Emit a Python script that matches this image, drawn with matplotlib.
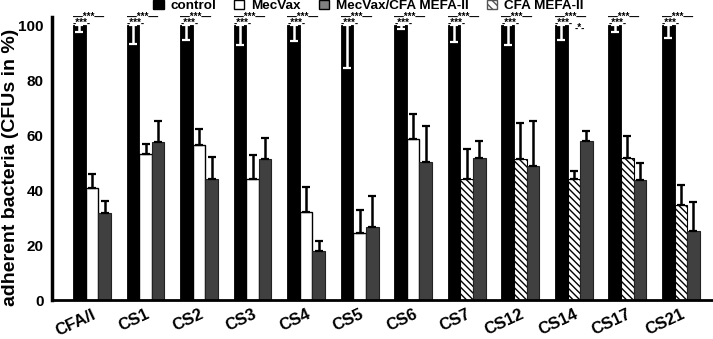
"""Adherence of ETEC strains after antibody treatment, % of control CFUs."""

import numpy as np
import matplotlib
matplotlib.use("Agg")
import matplotlib.pyplot as plt
from matplotlib.patches import Patch

plt.rcParams["font.family"] = ["Liberation Sans", "DejaVu Sans"]
plt.rcParams["font.weight"] = "bold"
plt.rcParams["hatch.linewidth"] = 1.0

categories = ["CFA/I", "CS1", "CS2", "CS3", "CS4", "CS5", "CS6",
              "CS7", "CS12", "CS14", "CS17", "CS21"]

control = [100] * 12
control_err = [2.5, 7.0, 5.5, 7.3, 5.7, 15.5, 1.5, 6.0, 7.3, 5.5, 2.4, 4.6]

# MecVax tested on the first seven strains, CFA MEFA-II on the last five
mecvax = [40.8, 53.2, 56.3, 44.0, 32.2, 24.3, 58.5]
mecvax_err = [5.1, 3.7, 6.1, 8.6, 8.8, 8.5, 9.3]
cfa_mefa = [44.0, 51.2, 44.0, 51.6, 34.4]
cfa_mefa_err = [11.0, 13.3, 2.8, 8.1, 7.3]

combo = [31.6, 57.4, 44.0, 51.2, 17.9, 26.4, 50.3, 51.8, 48.9, 57.7, 43.8, 25.1]
combo_err = [4.3, 7.8, 7.9, 7.9, 3.5, 11.6, 13.1, 6.1, 16.1, 3.7, 5.9, 10.6]

sig_upper = ["—***—"] * 12
sig_lower = ["-***-"] * 12
sig_extra = {"CS14": "-*-"}

x = np.arange(len(categories))
w = 0.235
n_mv = len(mecvax)

fig = plt.figure(figsize=(7.13, 3.39), dpi=100)
ax = fig.add_axes([0.073, 0.115, 0.927, 0.835])

ax.bar(x - w, control, w, color="black", edgecolor="black", linewidth=0.6, zorder=2)
ax.bar(x[:n_mv], mecvax, w, color="white", edgecolor="black", linewidth=1.0, zorder=2)
ax.bar(x[n_mv:], cfa_mefa, w, color="white", edgecolor="black", linewidth=0.8,
       hatch="\\" * 5, zorder=2)
ax.bar(x + w, combo, w, color="#404040", edgecolor="#222222", linewidth=0.8, zorder=2)

eb = dict(fmt="none", elinewidth=1.8, capsize=2.6, capthick=1.6, zorder=3)
ax.errorbar(x - w, control, yerr=[control_err, [0] * 12], ecolor="white", **eb)
ax.errorbar(x[:n_mv], mecvax, yerr=[[0] * n_mv, mecvax_err], ecolor="black", **eb)
ax.errorbar(x[n_mv:], cfa_mefa, yerr=[[0] * len(cfa_mefa), cfa_mefa_err],
            ecolor="black", **eb)
ax.errorbar(x + w, combo, yerr=[[0] * 12, combo_err], ecolor="black", **eb)

for i, cat in enumerate(categories):
    left = x[i] - 1.5 * w
    ax.text(left, 102.9, sig_upper[i], fontsize=7, ha="left", va="center",
            clip_on=False)
    ax.text(left, 101.0, sig_lower[i], fontsize=7, ha="left", va="center",
            clip_on=False)
    if cat in sig_extra:
        ax.text(x[i] + 0.5 * w, 99.2, sig_extra[cat], fontsize=7, ha="center",
                va="center", clip_on=False)

ax.set_xlim(-0.746, 11.6)
ax.set_ylim(0, 103)
ax.set_yticks([0, 20, 40, 60, 80, 100])
ax.set_xticks(x)
ax.set_xticklabels(categories, rotation=25, ha="right", rotation_mode="anchor",
                   fontsize=12, fontweight="bold")
ax.tick_params(axis="y", length=0, labelsize=11, pad=6)
ax.tick_params(axis="x", length=0, pad=5)
for lbl in ax.get_yticklabels():
    lbl.set_fontweight("bold")
ax.set_ylabel("adherent bacteria (CFUs in %)", fontsize=14, fontweight="bold")
ax.yaxis.set_label_coords(-0.05, 0.47)

for side in ("top", "right"):
    ax.spines[side].set_visible(False)
ax.spines["left"].set_linewidth(2.5)
ax.spines["bottom"].set_linewidth(2.0)

handles = [
    Patch(facecolor="black", edgecolor="black", label="control"),
    Patch(facecolor="white", edgecolor="black", label="MecVax"),
    Patch(facecolor="#808080", edgecolor="black", label="MecVax/CFA MEFA-II"),
    Patch(facecolor="white", edgecolor="#555555", hatch="\\" * 4, label="CFA MEFA-II"),
]
fig.legend(handles=handles, loc="upper left", bbox_to_anchor=(0.202, 1.029), ncol=4,
           frameon=False, prop={"size": 9.7, "weight": "bold"}, handlelength=0.75,
           handleheight=0.75, handletextpad=0.5, columnspacing=1.35, borderpad=0.2)

fig.savefig("out.png", dpi=100)
